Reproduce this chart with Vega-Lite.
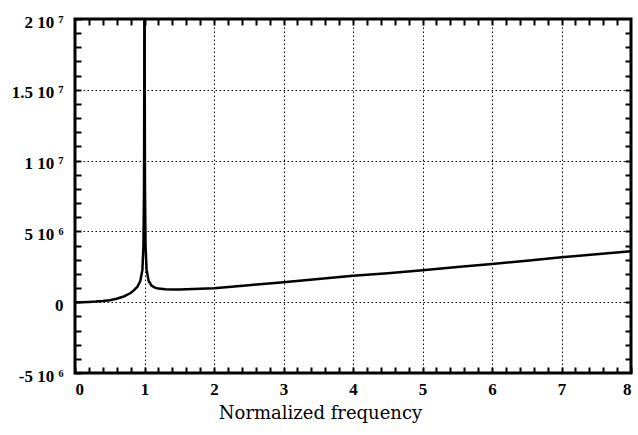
{
  "$schema": "https://vega.github.io/schema/vega-lite/v6.json",
  "width": 556,
  "height": 354,
  "autosize": {"type": "none"},
  "padding": {"left": 75, "top": 19, "right": 7, "bottom": 62},
  "background": "white",
  "config": {
    "view": {"stroke": "black", "strokeWidth": 3},
    "axis": {
      "domain": false,
      "tickColor": "black",
      "tickWidth": 2,
      "tickSize": -6,
      "gridColor": "black",
      "gridDash": [1.5, 2.5],
      "gridWidth": 1,
      "labelFont": "Liberation Serif",
      "labelFontWeight": "bold",
      "labelFontSize": 17,
      "labelColor": "black",
      "titleFont": "DejaVu Serif",
      "titleFontWeight": "normal",
      "titleColor": "black"
    }
  },
  "data": {
    "values": [
      {"f": 0, "v": 0},
      {"f": 0.1, "v": 5000},
      {"f": 0.2, "v": 20000},
      {"f": 0.3, "v": 45000},
      {"f": 0.4, "v": 85000},
      {"f": 0.5, "v": 145000},
      {"f": 0.6, "v": 245000},
      {"f": 0.7, "v": 400000},
      {"f": 0.8, "v": 650000},
      {"f": 0.85, "v": 850000},
      {"f": 0.9, "v": 1100000},
      {"f": 0.94, "v": 1500000},
      {"f": 0.97, "v": 2300000},
      {"f": 0.985, "v": 4000000},
      {"f": 0.993, "v": 8000000},
      {"f": 0.997, "v": 16000000},
      {"f": 0.999, "v": 40000000},
      {"f": 1.0, "v": 90000000},
      {"f": 1.001, "v": 40000000},
      {"f": 1.003, "v": 16000000},
      {"f": 1.007, "v": 8000000},
      {"f": 1.015, "v": 4000000},
      {"f": 1.03, "v": 2300000},
      {"f": 1.06, "v": 1500000},
      {"f": 1.1, "v": 1180000},
      {"f": 1.15, "v": 1030000},
      {"f": 1.2, "v": 960000},
      {"f": 1.3, "v": 910000},
      {"f": 1.4, "v": 895000},
      {"f": 1.5, "v": 900000},
      {"f": 1.7, "v": 930000},
      {"f": 2.0, "v": 990000},
      {"f": 2.5, "v": 1200000},
      {"f": 3.0, "v": 1410000},
      {"f": 3.5, "v": 1630000},
      {"f": 4.0, "v": 1860000},
      {"f": 4.5, "v": 2050000},
      {"f": 5.0, "v": 2250000},
      {"f": 5.5, "v": 2480000},
      {"f": 6.0, "v": 2700000},
      {"f": 6.5, "v": 2930000},
      {"f": 7.0, "v": 3170000},
      {"f": 7.5, "v": 3380000},
      {"f": 8.0, "v": 3590000}
    ]
  },
  "layer": [
    {
      "mark": {"type": "line", "color": "black", "strokeWidth": 2.5, "clip": true},
      "encoding": {
        "x": {
          "field": "f", "type": "quantitative",
          "scale": {"domain": [0, 8], "nice": false, "zero": false},
          "axis": {
            "orient": "bottom",
            "values": [0,0.2,0.4,0.6,0.8,1,1.2,1.4,1.6,1.8,2,2.2,2.4,2.6,2.8,3,3.2,3.4,3.6,3.8,4,4.2,4.4,4.6,4.8,5,5.2,5.4,5.6,5.8,6,6.2,6.4,6.6,6.8,7,7.2,7.4,7.6,7.8,8],
            "labelExpr": "datum.value % 1 === 0 ? format(datum.value, 'd') : ''",
            "labelBaseline": "alphabetic",
            "labelPadding": 27,
            "grid": true,
            "gridOpacity": {"condition": {"test": "datum.value % 1 !== 0", "value": 0}, "value": 1},
            "title": "Normalized frequency",
            "titleFontSize": 18,
            "titleBaseline": "alphabetic",
            "titleAlign": "center",
            "titleX": 245,
            "titleY": 45
          }
        },
        "y": {
          "field": "v", "type": "quantitative",
          "scale": {"domain": [-5000000, 20000000], "nice": false, "zero": false},
          "axis": {
            "orient": "left",
            "values": [-5000000,-4000000,-3000000,-2000000,-1000000,0,1000000,2000000,3000000,4000000,5000000,6000000,7000000,8000000,9000000,10000000,11000000,12000000,13000000,14000000,15000000,16000000,17000000,18000000,19000000,20000000],
            "labelExpr": "datum.value === 20000000 ? '2 10 ⁷' : datum.value === 15000000 ? '1.5 10 ⁷' : datum.value === 10000000 ? '1 10 ⁷' : datum.value === 5000000 ? '5 10 ⁶' : datum.value === 0 ? '0' : datum.value === -5000000 ? '-5 10 ⁶' : ''",
            "labelPadding": 18,
            "labelOffset": 3,
            "labelBaseline": "middle",
            "grid": true,
            "gridOpacity": {"condition": {"test": "datum.value % 5000000 !== 0", "value": 0}, "value": 1},
            "title": null
          }
        }
      }
    },
    {
      "mark": {"type": "line", "opacity": 0},
      "encoding": {
        "x": {
          "field": "f", "type": "quantitative",
          "axis": {
            "orient": "top",
            "values": [0.2,0.4,0.6,0.8,1,1.2,1.4,1.6,1.8,2,2.2,2.4,2.6,2.8,3,3.2,3.4,3.6,3.8,4,4.2,4.4,4.6,4.8,5,5.2,5.4,5.6,5.8,6,6.2,6.4,6.6,6.8,7,7.2,7.4,7.6,7.8],
            "labels": false,
            "grid": false,
            "title": null
          }
        },
        "y": {
          "field": "v", "type": "quantitative",
          "axis": {
            "orient": "right",
            "values": [-4000000,-3000000,-2000000,-1000000,0,1000000,2000000,3000000,4000000,5000000,6000000,7000000,8000000,9000000,10000000,11000000,12000000,13000000,14000000,15000000,16000000,17000000,18000000,19000000],
            "labels": false,
            "grid": false,
            "title": null
          }
        }
      }
    }
  ],
  "resolve": {"axis": {"x": "independent", "y": "independent"}}
}
